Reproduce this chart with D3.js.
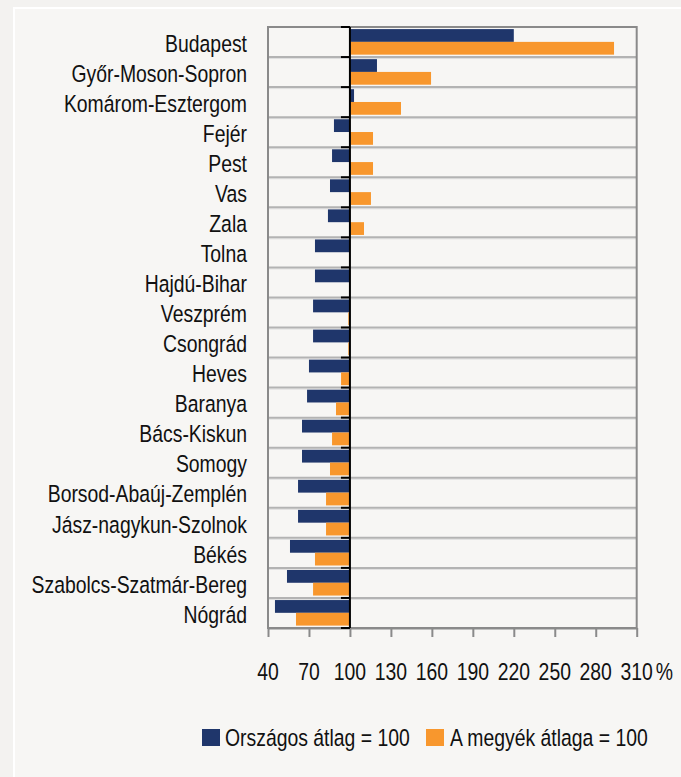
<!DOCTYPE html>
<html>
<head>
<meta charset="utf-8">
<script src="https://cdn.jsdelivr.net/npm/d3@7/dist/d3.min.js"></script>
<style>
  html, body { margin: 0; padding: 0; background: #f3f2f0; }
  svg { display: block; }
  text { font-family: "Liberation Sans", Arial, sans-serif; fill: #111; }
</style>
</head>
<body>
<svg id="chart" width="681" height="777"></svg>
<script>
const categories = ["Budapest", "Győr-Moson-Sopron", "Komárom-Esztergom", "Fejér", "Pest", "Vas", "Zala",
  "Tolna", "Hajdú-Bihar", "Veszprém", "Csongrád", "Heves", "Baranya", "Bács-Kiskun", "Somogy",
  "Borsod-Abaúj-Zemplén", "Jász-nagykun-Szolnok", "Békés", "Szabolcs-Szatmár-Bereg", "Nógrád"];
const orszagos = [220, 119.8, 103, 88.3, 86.9, 85.4, 83.9, 74.4, 74.4, 73, 73, 70, 68.6, 64.9, 64.9, 62, 62, 56.1, 53.9, 45.1];
const megyek = [293.4, 159.4, 137.4, 116.9, 116.9, 115.4, 110.3, 100, 100, 98.8, 98.8, 93.5, 89.8, 86.9, 85.4, 82.5, 82.5, 74.4, 73, 60.5];
const seriesNames = ["Országos átlag = 100", "A megyék átlaga = 100"];
const seriesColors = ["#1f366b", "#f8972d"];
const xTicks = [40, 70, 100, 130, 160, 190, 220, 250, 280, 310];
const baseValue = 100;

const svg = d3.select("#chart");
const FS = 19.4, SY = 1.2;

// inner panel
svg.append("rect").attr("x", 14).attr("y", 8).attr("width", 700).attr("height", 800)
  .attr("fill", "#f7f6f4").attr("stroke", "#ffffff").attr("stroke-width", 2);

const L = 268, R = 636.7, T = 27, B = 628;
const x = d3.scaleLinear().domain([40, 310]).range([L, R]);
const y = d3.scaleBand().domain(categories).range([T, B]);
const bw = y.bandwidth();
const sub = d3.scaleBand().domain([0, 1]).range([0.07 * bw, 0.92 * bw]);

function stretchText(g, tx, ty, str, anchor) {
  return g.append("text")
    .attr("transform", `translate(${tx},${ty}) scale(1,${SY})`)
    .attr("text-anchor", anchor)
    .attr("font-size", FS)
    .text(str);
}

// gridlines
const grid = svg.append("g");
categories.forEach((c, i) => {
  if (i === 0) return;
  const yy = y(c);
  grid.append("line").attr("x1", L).attr("x2", R).attr("y1", yy + 1.5).attr("y2", yy + 1.5)
    .attr("stroke", "#dedede").attr("stroke-width", 1);
  grid.append("line").attr("x1", L).attr("x2", R).attr("y1", yy).attr("y2", yy)
    .attr("stroke", "#b3b3b3").attr("stroke-width", 2);
});

// bars
const data = categories.map((c, i) => ({ c, vals: [orszagos[i], megyek[i]] }));
const bars = svg.append("g");
data.forEach(d => {
  d.vals.forEach((v, s) => {
    const x0 = Math.min(x(baseValue), x(v)), x1 = Math.max(x(baseValue), x(v));
    bars.append("rect")
      .attr("x", x0).attr("width", x1 - x0)
      .attr("y", y(d.c) + sub(s)).attr("height", sub.bandwidth())
      .attr("fill", seriesColors[s]);
  });
});

// plot border
svg.append("rect").attr("x", L).attr("y", T).attr("width", R - L).attr("height", B - T)
  .attr("fill", "none").attr("stroke", "#8a8a8a").attr("stroke-width", 2);

// x axis
const xAxis = svg.append("g").attr("transform", `translate(0,${B})`)
  .call(d3.axisBottom(x).tickValues(xTicks).tickSize(9).tickSizeOuter(0));
xAxis.select(".domain").attr("stroke", "#8a8a8a").attr("stroke-width", 2);
xAxis.selectAll(".tick line").attr("stroke", "#8a8a8a").attr("stroke-width", 2);
xAxis.selectAll(".tick text").remove();
xTicks.forEach(t => stretchText(xAxis, x(t), 52, String(t), "middle"));
stretchText(xAxis, R + 19, 52, "%", "start");

// vertical base line at 100 with ticks at category boundaries
const bx = x(baseValue);
const yb = svg.append("g");
const bounds = categories.map(c => y(c)).concat([B]);
bounds.forEach(yy => {
  yb.append("line").attr("x1", bx - 9).attr("x2", bx).attr("y1", yy).attr("y2", yy)
    .attr("stroke", "#000").attr("stroke-width", 2);
});
yb.append("line").attr("x1", bx).attr("x2", bx).attr("y1", T).attr("y2", B)
  .attr("stroke", "#000").attr("stroke-width", 2);

// category labels
const labels = svg.append("g");
categories.forEach(c => stretchText(labels, 247, y(c) + bw / 2 + 9.7, c, "end"));

// legend
const lg = svg.append("g");
const legendX = [202, 426], legendTextX = [225, 450];
seriesNames.forEach((n, i) => {
  lg.append("rect").attr("x", legendX[i]).attr("y", 729).attr("width", 18).attr("height", 17)
    .attr("fill", seriesColors[i]);
  stretchText(lg, legendTextX[i], 746, n, "start");
});
</script>
</body>
</html>
